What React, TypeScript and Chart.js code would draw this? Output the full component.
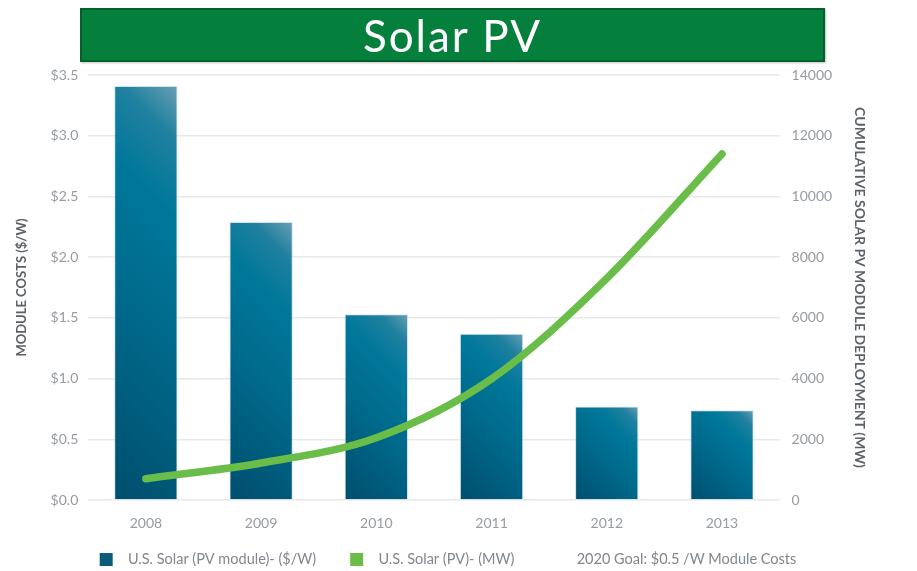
import React, { useEffect, useRef } from 'react';
import { Chart, registerables } from 'chart.js';

Chart.register(...registerables);

const years = ['2008', '2009', '2010', '2011', '2012', '2013'];
const moduleCost = [3.41, 2.29, 1.53, 1.37, 0.77, 0.74];
const deployment = [700, 1220, 2050, 3990, 7300, 11400];
const seriesLabels = [
  'U.S. Solar (PV module)- ($/W)',
  'U.S. Solar (PV)- (MW)',
  '2020 Goal: $0.5 /W Module Costs',
];
const legendColors = ['#0b5b79', '#69bd48', 'rgba(0,0,0,0)'];
const costTicks = { min: 0, max: 3.5, step: 0.5 };
const mwTicks = { min: 0, max: 14000, step: 2000 };
const title = 'Solar PV';
const leftTitle = 'MODULE COSTS ($/W)';
const rightTitle = 'CUMULATIVE SOLAR PV MODULE DEPLOYMENT (MW)';

const FONT = 'Lato, "Open Sans", sans-serif';
const BAR_PCT = 0.55;
const SWATCH = 13;
const SWATCH_PAD = 14;
const SWATCH_GAP = 8;

function makeSwatch(color: string): HTMLCanvasElement {
  const c = document.createElement('canvas');
  c.width = SWATCH_PAD + SWATCH + SWATCH_GAP;
  c.height = SWATCH;
  const g = c.getContext('2d');
  if (g) {
    g.fillStyle = color;
    g.fillRect(SWATCH_PAD, 0, SWATCH, SWATCH);
  }
  return c;
}

export default function App() {
  const ref = useRef<HTMLCanvasElement>(null);

  useEffect(() => {
    if (!ref.current) return;
    const swatches = legendColors.map(makeSwatch);

    const barFill = (ctx: any) => {
      const chart = ctx.chart;
      const xs = chart.scales?.x;
      const ys = chart.scales?.y;
      if (!xs || !ys || ctx.type !== 'data' || !chart.chartArea) return '#00708f';
      const i = ctx.dataIndex;
      const cx = xs.getPixelForValue(i);
      const w = (xs.width / years.length) * BAR_PCT;
      const left = cx - w / 2;
      const top = ys.getPixelForValue(moduleCost[i]);
      const bottom = ys.getPixelForValue(0);
      const h = bottom - top;
      const d = (w + h) / 2;
      const g = chart.ctx.createLinearGradient(left, bottom, left + d, bottom - d);
      g.addColorStop(0, '#004e6d');
      g.addColorStop(0.45, '#006a8c');
      g.addColorStop(0.72, '#00789a');
      g.addColorStop(0.88, '#1f809f');
      g.addColorStop(1, '#6a9fb4');
      return g;
    };

    const chart = new Chart(ref.current, {
      data: {
        labels: years,
        datasets: [
          {
            type: 'line',
            label: seriesLabels[1],
            data: deployment,
            yAxisID: 'y1',
            borderColor: '#69bd48',
            backgroundColor: '#69bd48',
            borderWidth: 7.5,
            borderCapStyle: 'round',
            borderJoinStyle: 'round',
            cubicInterpolationMode: 'monotone',
            pointRadius: 0,
            fill: false,
            order: 1,
          },
          {
            type: 'bar',
            label: seriesLabels[0],
            data: moduleCost,
            yAxisID: 'y',
            backgroundColor: barFill,
            borderColor: 'rgba(170,205,220,0.55)',
            borderWidth: 1,
            barPercentage: BAR_PCT,
            categoryPercentage: 1,
            order: 2,
          },
          {
            type: 'line',
            label: seriesLabels[2],
            data: [],
            yAxisID: 'y',
            borderColor: 'rgba(0,0,0,0)',
            order: 3,
          },
        ],
      } as any,
      options: {
        responsive: true,
        maintainAspectRatio: false,
        animation: false,
        layout: { padding: { left: 10, right: 45, top: 75, bottom: 0 } },
        plugins: {
          tooltip: { enabled: false },
          legend: {
            position: 'bottom',
            maxHeight: 39,
            labels: {
              usePointStyle: true,
              pointStyleWidth: SWATCH_PAD + SWATCH + SWATCH_GAP,
              boxHeight: SWATCH,
              padding: 20,
              color: '#80878d',
              font: { family: FONT, size: 14.5 },
              generateLabels: () =>
                seriesLabels.map((text, i) => ({
                  text,
                  fillStyle: legendColors[i],
                  strokeStyle: 'rgba(0,0,0,0)',
                  lineWidth: 0,
                  hidden: false,
                  pointStyle: swatches[i],
                  datasetIndex: i,
                  fontColor: '#80878d',
                })),
            },
          },
        },
        scales: {
          x: {
            grid: { display: false, drawTicks: false },
            border: { display: false },
            ticks: { color: '#979ca1', font: { family: FONT, size: 14 }, padding: 15 },
            afterFit: (scale: any) => {
              scale.height = 32;
            },
          },
          y: {
            position: 'left',
            min: costTicks.min,
            max: costTicks.max,
            grid: { color: '#e8e8e8', lineWidth: 1.5, drawTicks: false },
            border: { display: false },
            ticks: {
              stepSize: costTicks.step,
              color: '#979ca1',
              font: { family: FONT, size: 14 },
              padding: 10,
              callback: (v: any) => '$' + Number(v).toFixed(1),
            },
            title: {
              display: true,
              text: leftTitle,
              color: '#5b6268',
              font: { family: FONT, size: 13, weight: 'bold' },
              padding: { top: 4, bottom: 11 },
            },
          },
          y1: {
            position: 'right',
            min: mwTicks.min,
            max: mwTicks.max,
            grid: { display: false, drawTicks: false },
            border: { display: false },
            ticks: {
              stepSize: mwTicks.step,
              color: '#979ca1',
              font: { family: FONT, size: 14 },
              padding: 12,
              callback: (v: any) => String(v),
            },
            title: {
              display: true,
              text: rightTitle,
              color: '#5b6268',
              font: { family: FONT, size: 14, weight: 'bold' },
              padding: { top: 4, bottom: 7 },
            },
          },
        },
      } as any,
    });
    return () => chart.destroy();
  }, []);

  return (
    <div style={{ position: 'fixed', left: 0, top: 0, width: 917, height: 571, background: '#fff', overflow: 'hidden' }}>
      <div style={{ position: 'absolute', left: 0, top: 0, width: 917, height: 571 }}>
        <canvas ref={ref} />
      </div>
      <div
        style={{
          position: 'absolute',
          left: 80,
          top: 8,
          width: 745,
          height: 54,
          boxSizing: 'border-box',
          background: '#04803c',
          border: '2px solid #035f2b',
          boxShadow: '1px 1px 2px rgba(0,0,0,0.25)',
          color: '#fff',
          display: 'flex',
          alignItems: 'center',
          justifyContent: 'center',
          fontFamily: FONT,
          fontSize: 44,
          letterSpacing: 2,
          lineHeight: 1,
        }}
      >
        {title}
      </div>
    </div>
  );
}
